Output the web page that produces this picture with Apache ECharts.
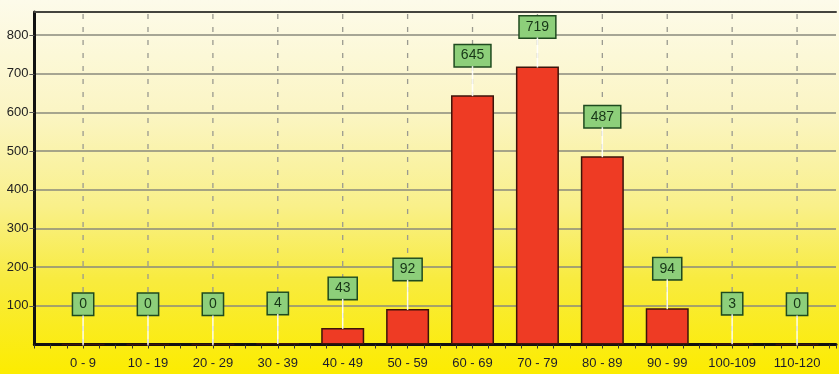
<!DOCTYPE html>
<html>
<head>
<meta charset="utf-8">
<script src="https://cdn.jsdelivr.net/npm/echarts@6/dist/echarts.min.js"></script>
<style>
  html, body { margin: 0; padding: 0; background: #fdf6c0; }
  #chart { width: 839px; height: 374px; }
</style>
</head>
<body>
<div id="chart"></div>
<script>
// Score ranges and how many results fall in each
const categories = ['0 - 9', '10 - 19', '20 - 29', '30 - 39', '40 - 49', '50 - 59',
                    '60 - 69', '70 - 79', '80 - 89', '90 - 99', '100-109', '110-120'];
const counts = [0, 0, 0, 4, 43, 92, 645, 719, 487, 94, 3, 0];

// Value axis ticks
const yMax = 860;
const yStep = 100;

const points = counts.map((v, i) => [i, v]);
const LABEL_GAP = 29;   // px between bar top and the value box

const chart = echarts.init(document.getElementById('chart'));

chart.setOption({
  animation: false,
  backgroundColor: {
    type: 'linear', x: 0, y: 0, x2: 0, y2: 1,
    colorStops: [
      { offset: 0, color: '#fdfbea' },
      { offset: 0.3, color: '#fbf5c4' },
      { offset: 0.55, color: '#f9f08a' },
      { offset: 0.75, color: '#f8eb3e' },
      { offset: 1, color: '#fcec00' }
    ]
  },
  grid: { left: 34.4, top: 12, width: 806, height: 332.5 },
  xAxis: [{
    type: 'value',
    min: -0.75,
    max: 11.6,
    interval: 0.25,
    position: 'bottom',
    axisLine: { show: true, onZero: false, lineStyle: { color: '#111', width: 3 } },
    axisTick: { show: true, length: 4, lineStyle: { color: '#333', width: 1 } },
    axisLabel: {
      margin: 12,
      fontFamily: 'Liberation Sans, Arial, sans-serif',
      fontSize: 13,
      color: '#1c1c2c',
      formatter: v => (Number.isInteger(v) && categories[v] !== undefined) ? categories[v] : ''
    },
    splitLine: { show: false }
  }, {
    type: 'value',
    min: -0.75,
    max: 11.6,
    position: 'top',
    axisLine: { show: true, onZero: false, lineStyle: { color: '#44443e', width: 2 } },
    axisTick: { show: false },
    axisLabel: { show: false },
    splitLine: { show: false }
  }],
  yAxis: {
    type: 'value',
    min: 0,
    max: yMax,
    interval: yStep,
    axisLine: { show: true, onZero: false, lineStyle: { color: '#111', width: 3 } },
    axisTick: { show: true, length: 5, lineStyle: { color: '#555', width: 1 } },
    axisLabel: {
      margin: 6,
      showMinLabel: false,
      showMaxLabel: false,
      fontFamily: 'Liberation Sans, Arial, sans-serif',
      fontSize: 13,
      color: '#222'
    },
    splitLine: { show: true, lineStyle: { color: '#8a8a7c', width: 1.5 } }
  },
  series: [
    {
      // dashed vertical guide at each category centre
      type: 'custom',
      z: 1,
      silent: true,
      data: categories.map((c, i) => [i]),
      renderItem: (params, api) => {
        const x = api.coord([api.value(0), 0])[0];
        const cs = params.coordSys;
        return {
          type: 'line',
          shape: { x1: x, y1: cs.y + 2, x2: x, y2: cs.y + cs.height },
          style: { stroke: '#9a9a90', lineWidth: 1.3, lineDash: [5, 8] }
        };
      }
    },
    {
      type: 'bar',
      z: 2,
      barWidth: 43,
      data: points,
      itemStyle: { color: '#ee3b24', borderColor: '#3d140a', borderWidth: 1.5 },
      label: {
        show: true,
        position: 'top',
        distance: LABEL_GAP,
        formatter: p => String(p.value[1]),
        fontFamily: 'Liberation Sans, Arial, sans-serif',
        fontSize: 14,
        lineHeight: 15,
        color: '#173517',
        backgroundColor: '#8dcf7a',
        borderColor: '#1f4a1f',
        borderWidth: 1.5,
        padding: [3, 6, 3, 6]
      }
    },
    {
      // white leader line from the bar top up to its value box
      type: 'custom',
      z: 3,
      silent: true,
      data: points,
      renderItem: (params, api) => {
        const p = api.coord([api.value(0), api.value(1)]);
        return {
          type: 'line',
          shape: { x1: p[0], y1: p[1] + 1, x2: p[0], y2: p[1] - LABEL_GAP },
          style: { stroke: '#ffffff', lineWidth: 1.5, opacity: 0.9 }
        };
      }
    }
  ]
});
</script>
</body>
</html>
